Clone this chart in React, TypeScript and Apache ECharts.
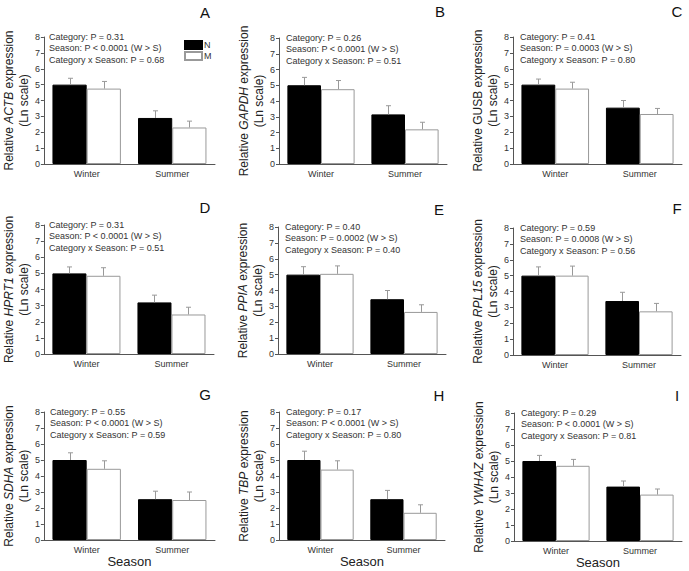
import React, { useEffect, useRef } from "react";
import * as echarts from "echarts";

const categories = ["Winter", "Summer"];
const seriesNames = ["N", "M"];
const genes = ["ACTB", "GAPDH", "GUSB", "HPRT1", "PPIA", "RPL15", "SDHA", "TBP", "YWHAZ"];
const geneItalic = [true, true, false, true, true, true, true, true, true];
const letters = ["A", "B", "C", "D", "E", "F", "G", "H", "I"];
const yTicks = [0, 1, 2, 3, 4, 5, 6, 7, 8];

// mean values [Winter, Summer]
const meanN = [
  [5.0, 2.9], [5.0, 3.15], [5.0, 3.55],
  [5.0, 3.2], [5.0, 3.45], [5.0, 3.4],
  [5.0, 2.55], [5.0, 2.55], [5.0, 3.4],
];
const meanM = [
  [4.75, 2.3], [4.75, 2.2], [4.75, 3.15],
  [4.85, 2.45], [5.05, 2.65], [5.0, 2.75],
  [4.45, 2.5], [4.4, 1.7], [4.7, 2.9],
];
// upper error (SE)
const errN = [
  [0.4, 0.45], [0.5, 0.55], [0.35, 0.45],
  [0.4, 0.45], [0.5, 0.55], [0.55, 0.55],
  [0.45, 0.5], [0.55, 0.55], [0.35, 0.35],
];
const errM = [
  [0.45, 0.4], [0.55, 0.45], [0.4, 0.35],
  [0.5, 0.45], [0.5, 0.45], [0.6, 0.5],
  [0.5, 0.5], [0.55, 0.5], [0.4, 0.35],
];
const pCategory = ["P = 0.31", "P = 0.26", "P = 0.41", "P = 0.31", "P = 0.40", "P = 0.59", "P = 0.55", "P = 0.17", "P = 0.29"];
const pSeason = ["P < 0.0001", "P < 0.0001", "P = 0.0003", "P < 0.0001", "P = 0.0002", "P = 0.0008", "P < 0.0001", "P < 0.0001", "P < 0.0001"];
const pInteraction = ["P = 0.68", "P = 0.51", "P = 0.80", "P = 0.51", "P = 0.40", "P = 0.56", "P = 0.59", "P = 0.80", "P = 0.81"];

// layout: [left, top, width, height]
const grids = [
  [42, 37, 173, 127], [279, 38, 168, 126], [513, 37, 169, 127],
  [42, 225, 172, 129], [278, 227, 168, 127], [513, 228, 168, 127],
  [43, 412, 172, 128], [279, 412, 166, 128], [514, 413, 168, 128],
];
const letterPos = [
  [205, 12], [440, 11], [677, 11],
  [205, 207], [439, 209], [677, 208],
  [205, 394], [439, 395], [677, 395],
];

const FONT = "'Liberation Sans', Arial, sans-serif";
const AXIS_COLOR = "#555";
const TEXT_COLOR = "#333";

export default function App() {
  const ref = useRef<HTMLDivElement>(null);

  useEffect(() => {
    if (!ref.current) return;
    const chart = echarts.init(ref.current, null, { renderer: "svg" });

    const grid: any[] = [];
    const xAxis: any[] = [];
    const yAxis: any[] = [];
    const series: any[] = [];
    const graphic: any[] = [];

    genes.forEach((gene, i) => {
      const [l, t, w, h] = grids[i];
      grid.push({ left: l, top: t, width: w, height: h });
      const bottomRow = i >= 6;
      xAxis.push({
        type: "category",
        gridIndex: i,
        data: categories,
        axisLine: { lineStyle: { color: AXIS_COLOR, width: 1 } },
        axisTick: { show: false },
        axisLabel: { fontSize: 9, color: TEXT_COLOR, fontFamily: FONT, margin: 5 },
        name: bottomRow ? "Season" : "",
        nameLocation: "middle",
        nameGap: 15,
        nameTextStyle: { fontSize: 13, color: "#222", fontFamily: FONT },
      });
      const g = geneItalic[i] ? "gi" : "gn";
      yAxis.push({
        type: "value",
        gridIndex: i,
        min: yTicks[0],
        max: yTicks[yTicks.length - 1],
        interval: 1,
        splitLine: { show: false },
        axisLine: { show: true, lineStyle: { color: AXIS_COLOR, width: 1 } },
        axisTick: { show: true, length: 3, lineStyle: { color: AXIS_COLOR } },
        axisLabel: { fontSize: 9, color: TEXT_COLOR, fontFamily: FONT, margin: 4 },
        name: `{n|Relative }{${g}|${gene}}{n| expression}\n{n|(Ln scale)}`,
        nameLocation: "middle",
        nameRotate: 90,
        nameGap: 11,
        nameTextStyle: {
          fontSize: 12,
          lineHeight: 15,
          fontFamily: FONT,
          color: "#222",
          rich: {
            n: { fontSize: 12, lineHeight: 15, fontFamily: FONT, color: "#222" },
            gi: { fontSize: 12, lineHeight: 15, fontFamily: FONT, color: "#222", fontStyle: "italic" },
            gn: { fontSize: 12, lineHeight: 15, fontFamily: FONT, color: "#222" },
          },
        },
      });

      series.push({
        name: seriesNames[0],
        type: "bar",
        xAxisIndex: i,
        yAxisIndex: i,
        data: meanN[i],
        barGap: "0%",
        barCategoryGap: "20%",
        itemStyle: { color: "#000", borderColor: "#000", borderWidth: 1 },
      });
      series.push({
        name: seriesNames[1],
        type: "bar",
        xAxisIndex: i,
        yAxisIndex: i,
        data: meanM[i],
        barGap: "0%",
        barCategoryGap: "20%",
        itemStyle: { color: "#fff", borderColor: "#999", borderWidth: 1 },
      });
      const errData: number[][] = [];
      categories.forEach((_, c) => {
        errData.push([c, 0, meanN[i][c], errN[i][c]]);
        errData.push([c, 1, meanM[i][c], errM[i][c]]);
      });
      series.push({
        type: "custom",
        xAxisIndex: i,
        yAxisIndex: i,
        z: 5,
        encode: { x: 0, y: 2 },
        data: errData,
        renderItem: (params: any, api: any) => {
          const c = api.value(0);
          const grp = api.value(1);
          const m = api.value(2);
          const e = api.value(3);
          const catW = api.size([1, 0])[0];
          const off = (grp === 0 ? -0.2 : 0.2) * catW;
          const base = api.coord([c, m]);
          const top = api.coord([c, m + e]);
          const x = Math.round(base[0] + off) + 0.5;
          const style = { stroke: "#999", lineWidth: 1 };
          return {
            type: "group",
            children: [
              { type: "line", shape: { x1: x, y1: base[1], x2: x, y2: top[1] }, style },
              { type: "line", shape: { x1: x - 2.5, y1: top[1], x2: x + 2.5, y2: top[1] }, style },
            ],
          };
        },
      });

      const tx = l + 7;
      [
        `Category: ${pCategory[i]}`,
        `Season: ${pSeason[i]} (W > S)`,
        `Category x Season: ${pInteraction[i]}`,
      ].forEach((s, k) => {
        graphic.push({
          type: "text",
          x: tx,
          y: t + k * 11.3,
          style: {
            text: s,
            fontSize: 9,
            fontFamily: FONT,
            fill: TEXT_COLOR,
            textVerticalAlign: "middle",
            verticalAlign: "middle",
          },
        });
      });
      graphic.push({
        type: "text",
        x: letterPos[i][0],
        y: letterPos[i][1],
        style: {
          text: letters[i],
          fontSize: 15,
          fontFamily: FONT,
          fill: "#111",
          align: "center",
          verticalAlign: "middle",
          textAlign: "center",
          textVerticalAlign: "middle",
        },
      });
    });

    chart.setOption({
      animation: false,
      backgroundColor: "#fff",
      grid,
      xAxis,
      yAxis,
      series,
      graphic,
      legend: {
        data: seriesNames,
        orient: "vertical",
        left: 184,
        top: 40,
        icon: "rect",
        itemWidth: 17,
        itemHeight: 8,
        itemGap: 1,
        padding: 0,
        textStyle: { fontSize: 9, color: TEXT_COLOR, fontFamily: FONT, padding: [0, 0, 0, -3] },
        selectedMode: false,
      },
    });

    return () => chart.dispose();
  }, []);

  return (
    <div
      ref={ref}
      style={{ position: "fixed", left: 0, top: 0, width: 689, height: 571, background: "#fff" }}
    />
  );
}
